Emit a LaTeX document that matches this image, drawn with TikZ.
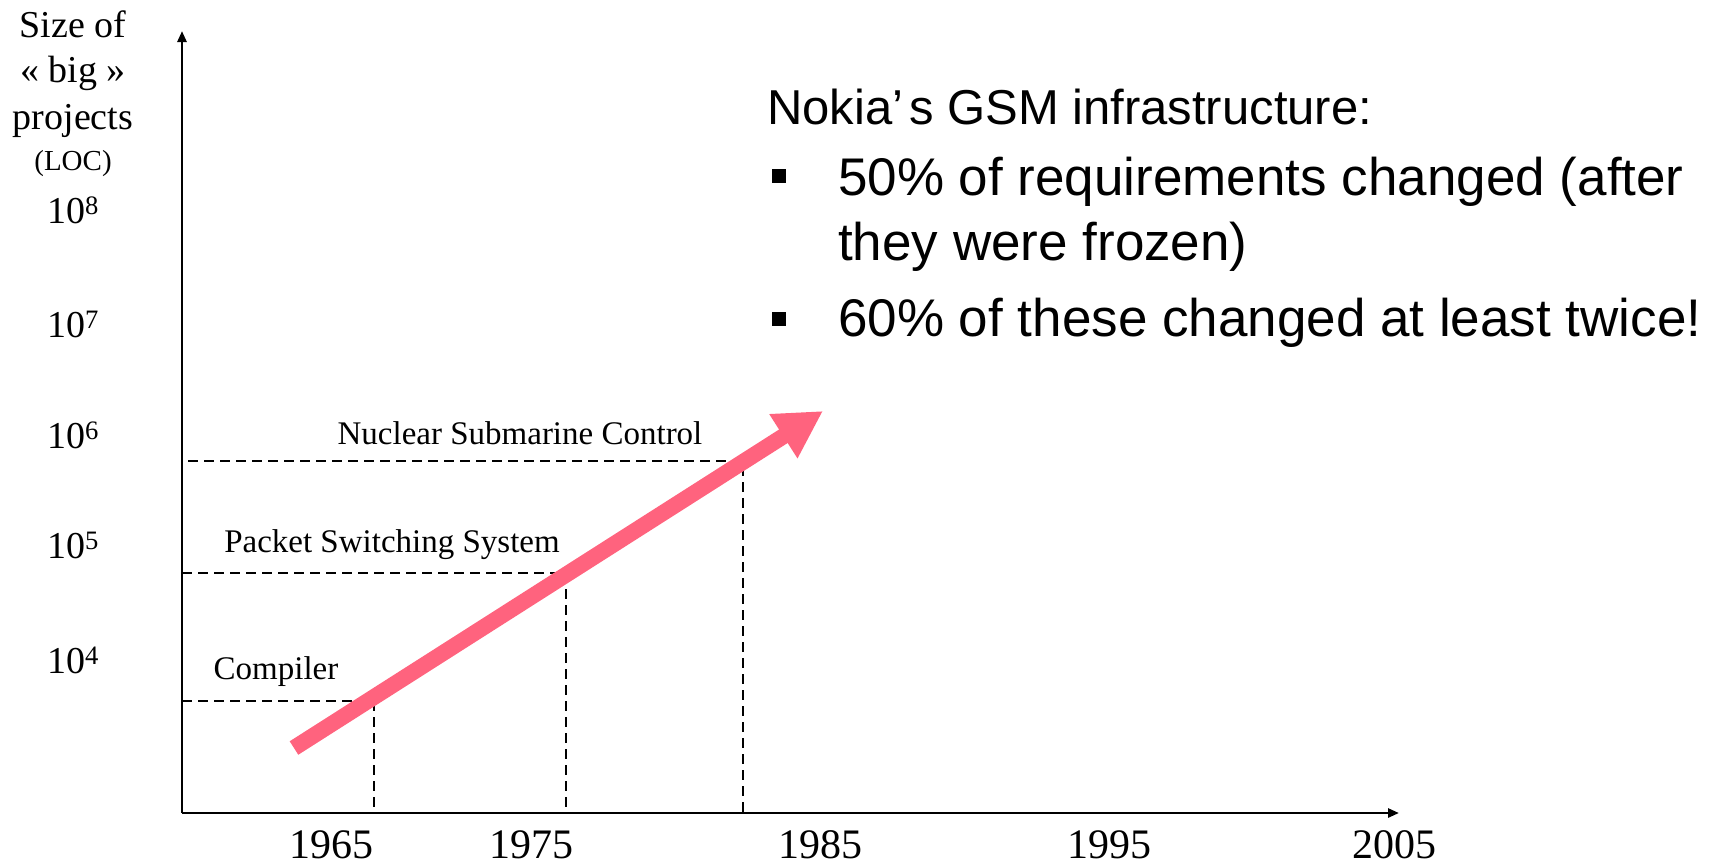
\documentclass[tikz,border=0pt]{standalone}
\usepackage{fontspec}
\setmainfont{Liberation Serif}
\newfontfamily\arialf{Liberation Sans}
\usetikzlibrary{arrows.meta}
\definecolor{trendpink}{RGB}{255,99,126}
\tikzset{
  axisline/.style={line width=2.6pt,-{Triangle[length=11pt,width=9pt]}},
  guide/.style={line width=2.6pt,dash pattern=on 10pt off 6pt},
  serif/.style={inner sep=0pt,font=\fontsize{33}{40}\selectfont},
  ylab/.style={inner sep=0pt,font=\fontsize{38}{44}\selectfont},
  yearlab/.style={inner sep=0pt,font=\fontsize{42}{48}\selectfont},
  sanstext/.style={inner sep=0pt,anchor=base west,font=\arialf\fontsize{53}{62}\selectfont},
  bulletsq/.style={fill=black,minimum size=14pt,inner sep=0pt},
  trend/.style={line width=16pt,draw=trendpink,line cap=butt,-{Triangle[length=47pt,width=49pt]}}
}
\begin{document}
\begin{tikzpicture}[x=1pt,y=-1pt]
\useasboundingbox (0,0) rectangle (1718,865);
% axes
\coordinate (O) at (182,813);
\coordinate (ytop) at (182,31);
\coordinate (xend) at (1399,813);
\draw[axisline] (O) -- (ytop);
\draw[axisline] (O) -- (xend);
% y-axis title
\node[ylab] (t1) at (73,24) {Size of};
\node[ylab] (t2) at (73,73) {« big »};
\node[ylab] (t3) at (73,121) {projects};
\node[inner sep=0pt,font=\fontsize{29}{34}\selectfont] (t4) at (73,164) {(LOC)};
% y ticks
\node[ylab] (y8) at (73,210) {10\textsuperscript{8}};
\node[ylab] (y7) at (73,324) {10\textsuperscript{7}};
\node[ylab] (y6) at (73,435) {10\textsuperscript{6}};
\node[ylab] (y5) at (73,545) {10\textsuperscript{5}};
\node[ylab] (y4) at (73,660) {10\textsuperscript{4}};
% years
\node[yearlab] (x1965) at (331,845) {1965};
\node[yearlab] (x1975) at (531,845) {1975};
\node[yearlab] (x1985) at (820,845) {1985};
\node[yearlab] (x1995) at (1109,845) {1995};
\node[yearlab] (x2005) at (1394,845) {2005};
% guide lines
\coordinate (h1a) at (188,461); \coordinate (p1) at (743,461); \coordinate (b1) at (743,813);
\coordinate (h2a) at (182,573); \coordinate (p2) at (566,573); \coordinate (b2) at (566,813);
\coordinate (h3a) at (182,701); \coordinate (p3) at (374,701); \coordinate (b3) at (374,813);
\draw[guide] (h1a) -- (p1) -- (b1);
\draw[guide] (h2a) -- (p2) -- (b2);
\draw[guide] (h3a) -- (p3) -- (b3);
% project labels
\node[serif] (nsc) at (520,433) {Nuclear Submarine Control};
\node[serif] (pss) at (392,545) {Packet Switching System};
\node[serif] (comp) at (276,672) {Compiler};
% trend arrow
\coordinate (ts) at (294,748);
\coordinate (te) at (823,411);
\draw[trend] (ts) -- (te);
% right text
\node[sanstext,font=\arialf\fontsize{49}{58}\selectfont] (title) at (767,124) {Nokia’\hspace{0.12em}s GSM infrastructure:};
\node[bulletsq] (b1s) at (779,176) {};
\node[sanstext] (l1) at (838,195) {50\% of requirements changed (after};
\node[sanstext] (l2) at (838,260) {they were frozen)};
\node[bulletsq] (b2s) at (779,319) {};
\node[sanstext] (l3) at (838,336) {60\% of these changed at least twice!};
\end{tikzpicture}
\end{document}
